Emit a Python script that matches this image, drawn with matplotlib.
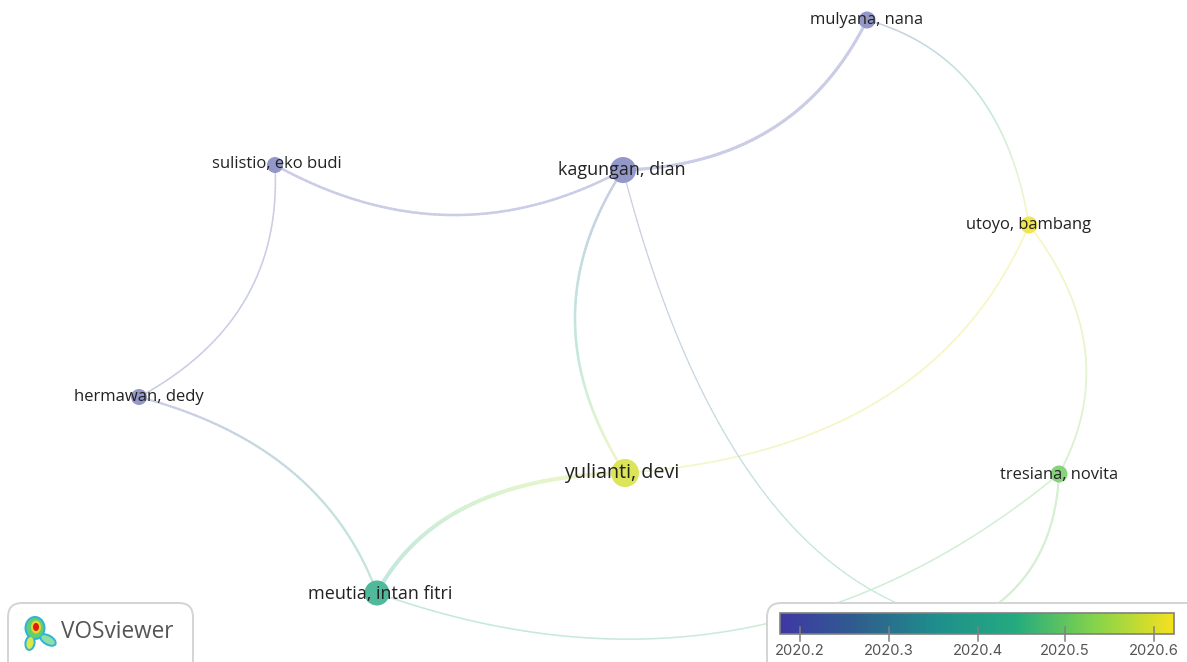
import matplotlib
matplotlib.use("Agg")
import matplotlib.pyplot as plt
import numpy as np
from matplotlib.collections import LineCollection
from matplotlib.colors import LinearSegmentedColormap, Normalize
from matplotlib.patches import Circle, Ellipse, FancyBboxPatch

plt.rcParams['font.family'] = ['Open Sans', 'DejaVu Sans']

# nodes, in picture pixels
names = ["mulyana, nana", "kagungan, dian", "sulistio, eko budi", "utoyo, bambang",
         "hermawan, dedy", "yulianti, devi", "tresiana, novita", "meutia, intan fitri", ""]
node_x = [867, 623, 275, 1029, 139, 625, 1059, 377, 965]
node_y = [20, 170, 165, 225, 397, 473, 474, 593, 624]
node_r = [8.5, 13, 8, 8.5, 8, 14, 8.5, 12.5, 8]
node_year = [2020.2, 2020.2, 2020.2, 2020.62, 2020.2, 2020.6, 2020.51, 2020.43, 2020.5]
label_x = [867, 622, 277, 1029, 139, 622, 1059, 380, 0]
label_y = [20, 170, 164, 225, 397, 473, 475, 594, 0]
label_size = [11.9, 13, 12, 11.9, 12, 14.2, 11.9, 13, 10]

# edges: start, end, a point the curve passes at its middle, width
edge_a = [1, 2, 2, 4, 7, 1, 5, 0, 3, 1, 6, 7]
edge_b = [0, 1, 4, 7, 5, 5, 3, 3, 6, 8, 8, 6]
edge_mid_x = [770, 450, 245, 290, 470, 575, 880, 975, 1085, 762, 1033, 735]
edge_mid_y = [130, 215, 300, 470, 505, 320, 400, 90, 350, 490, 565, 630]
edge_w = [2.2, 1.8, 1.1, 1.6, 2.8, 1.8, 1.2, 1.1, 1.2, 0.9, 1.5, 1.1]

cbar_ticks = [2020.2, 2020.3, 2020.4, 2020.5, 2020.6]
cbar_tick_x = [800, 889, 978, 1065, 1154]
cbar_min, cbar_max = 2020.17, 2020.63

cmap = LinearSegmentedColormap.from_list(
    "vos", ["#3f38a4", "#2f5f8e", "#1f8f8c", "#25ab80", "#84d44b", "#f7e11f"])
norm = Normalize(cbar_min, cbar_max)


def soft(year, alpha):
    c = np.array(cmap(norm(year))[:3])
    return tuple(c * alpha + (1 - alpha))


fig = plt.figure(figsize=(11.87, 6.62), dpi=100)
ax = fig.add_axes([0, 0, 1, 1])
ax.set_xlim(0, 1187)
ax.set_ylim(662, 0)
ax.axis("off")

t = np.linspace(0, 1, 80)
for a, b, mx, my, w in zip(edge_a, edge_b, edge_mid_x, edge_mid_y, edge_w):
    p0 = np.array([node_x[a], node_y[a]], float)
    p2 = np.array([node_x[b], node_y[b]], float)
    c = 2 * np.array([mx, my], float) - 0.5 * (p0 + p2)
    pts = np.outer((1 - t) ** 2, p0) + np.outer(2 * t * (1 - t), c) + np.outer(t ** 2, p2)
    segs = np.stack([pts[:-1], pts[1:]], axis=1)
    years = node_year[a] + (node_year[b] - node_year[a]) * t[:-1]
    lc = LineCollection(segs, colors=[soft(y, 0.27) for y in years], linewidths=w,
                        capstyle="round", zorder=1)
    ax.add_collection(lc)

for x, y, r, yr in zip(node_x, node_y, node_r, node_year):
    ax.add_patch(Circle((x, y), r, fc=soft(yr, 0.55 if yr < 2020.3 else 0.8), ec="none", zorder=2))

for s, x, y, fs in zip(names, label_x, label_y, label_size):
    if s:
        ax.text(x, y, s, ha="center", va="center", fontsize=fs, color="#222222", zorder=3)

# legend boxes
for x0, w in [(8, 185), (767, 440)]:
    ax.add_patch(FancyBboxPatch((x0, 603), w, 80, boxstyle="round,pad=0,rounding_size=14",
                                fc="white", ec="#d4d4d4", lw=1.4, zorder=4))

# colour bar
grad = np.linspace(cbar_min, cbar_max, 256).reshape(1, -1)
ax.imshow(grad, extent=(780, 1174, 634, 613), cmap=cmap, norm=norm, aspect="auto", zorder=5)
ax.add_patch(plt.Rectangle((780, 613), 394, 21, fc="none", ec="#808080", lw=1.2, zorder=6))
ax.set_xlim(0, 1187)
ax.set_ylim(662, 0)
for val, x in zip(cbar_ticks, cbar_tick_x):
    ax.plot([x, x], [627, 641], color="#808080", lw=1.1, zorder=6)
    ax.text(x, 651, f"{val:.1f}", ha="center", va="center", fontsize=10.6, color="#555555",
            family=["Inter", "DejaVu Sans"], zorder=6)

# logo
ax.text(61, 632, "VOSviewer", ha="left", va="center", fontsize=16.3, color="#555555", zorder=6)
logo = [(35, 628, 21, 24, 0, "#2fb4d8"), (30, 643, 11, 16, 10, "#2fb4d8"), (48, 640, 19, 11, 30, "#2fb4d8"),
        (35, 628, 17, 20, 0, "#5fd070"), (30, 643, 7, 12, 10, "#d9e84a"), (48, 640, 15, 7, 30, "#8fe0a0"),
        (36, 627, 10, 13, 0, "#f0d030"), (36, 627, 6, 8, 0, "#d81f10")]
for x, y, w, h, ang, col in logo:
    ax.add_patch(Ellipse((x, y), w, h, angle=ang, fc=col, ec="none", zorder=6))

fig.savefig("out.png", dpi=100)
